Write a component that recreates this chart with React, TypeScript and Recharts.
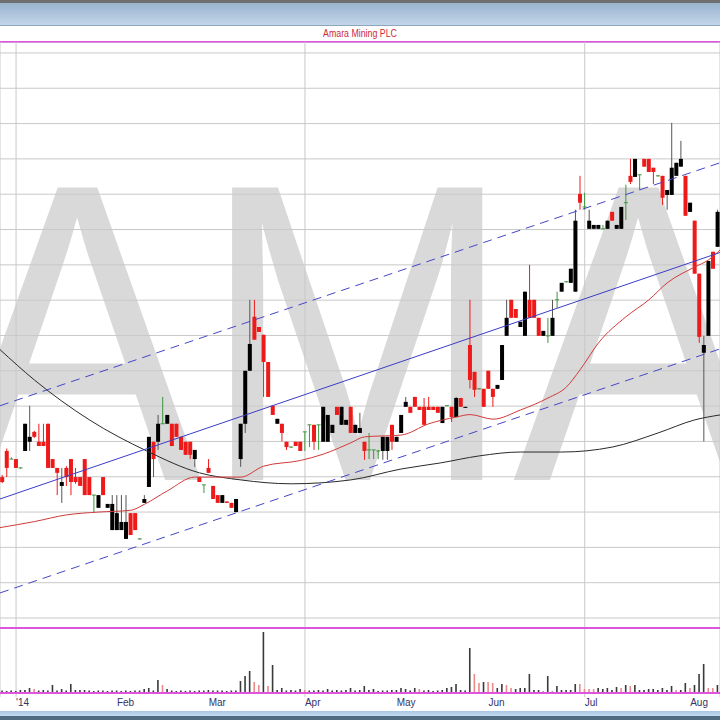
import React from 'react';
import { ComposedChart, Bar, Line, XAxis, YAxis, CartesianGrid, ReferenceLine } from 'recharts';

// trading day index: 0 = 2 Jan 2014, first candle is 27 Dec 2013
const firstDay = -3;

// [open, high, low, close] per trading day, pence
const ohlc: [number, number, number, number][] = [
  // Dec '13
  [8.99, 9.05, 8.82, 8.85], [9.73, 9.8, 8.99, 9.25], [9.5, 9.55, 9.5, 9.5],
  // Jan
  [9.5, 9.5, 9.25, 9.25], [9.25, 9.27, 9.23, 9.25], [9.73, 10.5, 9.73, 10.5], [9.99, 11.01, 9.73, 10.13],
  [10.27, 10.3, 10.1, 10.13], [9.99, 10.5, 9.87, 9.87], [9.99, 10.5, 9.87, 9.87], [10.5, 10.5, 9.25, 9.25],
  [9.5, 9.5, 9.25, 9.25], [9.25, 9.25, 8.48, 9.11], [8.74, 9.25, 8.26, 8.85], [9.25, 9.3, 8.74, 8.99],
  [9.5, 9.5, 8.48, 8.85], [8.99, 9.25, 8.8, 8.85], [8.99, 8.99, 8.74, 8.74], [9.5, 9.5, 8.48, 8.48],
  [8.99, 8.99, 8.48, 8.48], [8.48, 8.48, 8.0, 8.48], [8.12, 8.48, 8.12, 8.48], [8.99, 8.99, 8.48, 8.48],
  [8.12, 8.23, 8.12, 8.23], [7.49, 8.48, 7.49, 8.23],
  // Feb
  [7.49, 8.48, 7.49, 7.97], [7.49, 8.48, 7.49, 7.72], [7.24, 8.48, 7.24, 7.72], [7.97, 7.97, 7.35, 7.35],
  [7.97, 7.97, 7.49, 7.49], [7.24, 7.26, 7.22, 7.24], [8.26, 8.48, 8.26, 8.37], [8.71, 10.13, 8.71, 10.13],
  [9.99, 9.99, 8.99, 9.5], [9.99, 10.75, 9.76, 10.5], [10.5, 11.26, 10.5, 10.5], [10.5, 10.75, 10.5, 10.75],
  [10.5, 10.5, 9.87, 9.87], [10.5, 10.5, 10.13, 10.13], [10.13, 10.13, 9.76, 9.76], [9.99, 9.99, 9.62, 9.62],
  [9.99, 9.99, 9.5, 9.62], [9.5, 9.76, 9.28, 9.76], [8.99, 8.99, 8.85, 8.85], [8.77, 8.77, 8.54, 8.77],
  // Mar
  [9.25, 9.5, 9.11, 9.11], [8.74, 8.74, 8.37, 8.37], [8.48, 8.48, 8.26, 8.26], [8.26, 8.48, 8.26, 8.48],
  [8.3, 8.3, 8.26, 8.26], [8.26, 8.26, 8.12, 8.12], [8.0, 8.37, 8.0, 8.37], [9.5, 10.5, 9.28, 10.5],
  [10.5, 12.0, 10.24, 12.0], [12.0, 14.01, 12.0, 12.76], [13.53, 14.01, 12.88, 12.88], [13.24, 13.24, 13.1, 13.1],
  [13.02, 13.02, 11.26, 12.25], [12.25, 12.25, 11.26, 11.26], [11.01, 11.01, 10.75, 10.75], [10.5, 10.64, 10.5, 10.64],
  [10.5, 10.5, 10.0, 10.24], [9.99, 9.99, 9.76, 9.84], [9.84, 9.86, 9.82, 9.84], [9.99, 9.99, 9.87, 9.87],
  [9.99, 9.99, 9.73, 9.73],
  // Apr
  [10.27, 10.27, 9.73, 10.27], [10.47, 10.47, 9.84, 10.47], [10.47, 10.47, 9.76, 9.99], [10.47, 10.47, 9.76, 10.47],
  [9.99, 10.98, 9.99, 10.98], [9.99, 10.75, 9.99, 10.75], [10.24, 10.47, 10.24, 10.47], [10.98, 10.98, 10.75, 10.75],
  [10.47, 10.98, 10.47, 10.98], [10.47, 10.61, 10.47, 10.61], [10.98, 10.98, 10.24, 10.24], [10.24, 10.47, 10.24, 10.47],
  [10.24, 10.81, 10.24, 10.38], [9.99, 9.99, 9.48, 9.73], [9.76, 10.24, 9.5, 9.76], [9.76, 9.76, 9.5, 9.76],
  [9.73, 9.76, 9.5, 9.73], [9.73, 10.13, 9.48, 10.13], [9.73, 10.13, 9.48, 10.13], [10.47, 10.47, 9.76, 9.99],
  // May
  [9.99, 10.13, 9.99, 10.13], [10.24, 10.75, 10.24, 10.75], [10.98, 11.26, 10.98, 11.12], [10.98, 10.98, 10.81, 10.81],
  [11.26, 11.26, 10.98, 10.98], [10.98, 10.98, 10.89, 10.89], [10.98, 11.23, 10.47, 10.47], [10.98, 11.26, 10.89, 10.89],
  [10.98, 10.98, 10.89, 10.89], [10.98, 10.98, 10.81, 10.81], [10.52, 10.98, 10.52, 10.98], [11.01, 11.03, 10.99, 11.01],
  [10.98, 10.98, 10.55, 10.69], [10.69, 11.26, 10.69, 11.23], [11.23, 11.23, 10.98, 10.98], [10.95, 10.98, 10.95, 10.98],
  [12.73, 14.01, 11.5, 11.74], [11.97, 11.97, 11.26, 11.46], [11.49, 11.51, 11.47, 11.49], [11.49, 11.49, 10.98, 10.98],
  // Jun
  [12.0, 12.0, 11.49, 11.49], [11.49, 11.49, 10.98, 11.26], [11.49, 11.6, 11.49, 11.6], [11.74, 12.73, 11.74, 12.73],
  [12.99, 14.01, 12.99, 13.5], [14.01, 14.01, 13.5, 13.5], [13.75, 13.75, 13.5, 13.5], [13.24, 13.39, 13.24, 13.39],
  [12.99, 14.24, 12.99, 14.24], [14.01, 15.0, 13.5, 13.5], [14.01, 14.01, 13.5, 13.5], [13.5, 13.5, 12.99, 12.99],
  [12.99, 13.13, 12.99, 13.13], [12.99, 13.5, 12.79, 12.99], [12.99, 14.01, 12.99, 13.5], [14.01, 14.24, 13.78, 14.01],
  [14.24, 14.49, 14.24, 14.49], [14.52, 14.54, 14.5, 14.52], [14.49, 14.89, 14.49, 14.89], [14.24, 16.56, 14.24, 16.25],
  [17.01, 17.52, 16.56, 16.76],
  // Jul
  [16.64, 17.04, 16.56, 16.64], [16.02, 16.56, 16.02, 16.25], [16.02, 16.13, 16.02, 16.13], [16.02, 16.13, 16.02, 16.13],
  [16.02, 16.13, 16.02, 16.02], [16.02, 16.25, 16.02, 16.25], [16.5, 16.5, 16.25, 16.25], [16.02, 16.13, 16.02, 16.13],
  [16.02, 16.64, 16.02, 16.64], [16.76, 17.27, 16.27, 16.76], [17.52, 18.0, 17.29, 17.35], [17.49, 18.0, 17.49, 18.0],
  [17.55, 17.55, 17.12, 17.55], [18.0, 18.0, 17.78, 17.78], [18.0, 18.0, 17.63, 17.63], [17.75, 17.75, 17.29, 17.63],
  [17.52, 17.54, 17.5, 17.52], [17.52, 17.52, 16.7, 16.9], [16.98, 17.12, 16.56, 17.12], [16.98, 19.02, 16.98, 17.75],
  [17.52, 17.89, 17.52, 17.89], [17.78, 18.51, 17.78, 18.0], [17.52, 17.52, 16.39, 16.39],
  // Aug
  [16.5, 16.76, 16.5, 16.76], [16.25, 16.25, 14.75, 14.75], [14.75, 14.75, 12.79, 12.96], [12.51, 12.99, 10.0, 12.73],
  [12.99, 15.11, 12.99, 15.11], [15.37, 15.37, 14.89, 14.89], [15.51, 16.56, 15.51, 16.5],
];

// volume, millions of shares
const volumes = [
  0.25, 0.2, 0.25, 0.2, 0.3, 0.3, 0.5, 0.4, 0.25, 0.3,
  0.25, 0.8, 0.25, 0.4, 0.25, 0.9, 0.3, 0.3, 0.3, 0.25,
  0.2, 0.25, 0.25, 0.2, 0.25, 0.25, 0.2, 0.25, 0.2, 0.25,
  0.25, 0.4, 0.5, 0.25, 1.3, 0.8, 0.4, 0.25, 0.2, 0.25,
  0.2, 0.25, 0.2, 0.25, 0.25, 0.3, 0.25, 0.25, 0.25, 0.2,
  0.25, 0.25, 1.2, 1.7, 2.2, 1.1, 0.8, 6.1, 0.7, 2.8,
  0.3, 0.5, 0.25, 0.3, 0.25, 0.4, 0.3, 0.25, 0.25, 0.3,
  0.25, 0.4, 0.25, 0.3, 0.25, 0.3, 0.5, 0.25, 0.3, 0.7,
  0.3, 0.4, 0.2, 0.25, 0.25, 0.3, 0.3, 0.5, 0.4, 0.25,
  0.5, 0.4, 0.25, 0.3, 0.2, 0.25, 0.3, 0.5, 0.6, 0.9,
  0.3, 0.25, 4.5, 1.9, 1.0, 1.1, 1.1, 1.0, 0.5, 0.9,
  0.8, 0.5, 0.4, 0.5, 0.5, 1.9, 0.3, 0.3, 0.15, 1.7,
  0.15, 0.7, 0.3, 0.3, 0.3, 0.9, 0.9, 0.4, 0.4, 0.4,
  0.5, 0.4, 0.5, 0.3, 0.6, 0.5, 0.8, 0.7, 0.8, 0.3,
  0.3, 0.4, 0.4, 0.3, 0.5, 0.3, 0.7, 0.3, 0.3, 1.0,
  0.5, 0.8, 1.9, 2.9, 0.5, 0.5, 0.8,
];
// days whose volume bar is drawn pink (lower volume)
const pinkVolumeDays = [4, 32, 52, 53, 55, 63, 88, 100, 101, 103, 104, 107, 108, 123, 124, 125, 126, 132, 134, 144, 147, 151, 152];

const monthTicks = [0, 22, 42, 63, 83, 103, 124, 147];
const monthLabels = ["'14", 'Feb', 'Mar', 'Apr', 'May', 'Jun', 'Jul', 'Aug'];
const quarterTicks = [0, 63, 124];
const priceTicks = [5, 6, 7, 8, 9, 10, 11, 12, 13, 14, 15, 16, 17, 18, 19, 20, 21];

// moving averages
const redMaDays = [-3.5, 4, 11, 18, 25, 28, 33, 39, 49, 54, 62, 67, 73, 76, 84, 90, 96, 99, 104, 110, 116, 120, 123, 127, 133, 138, 142, 148, 151, 153.5];
const redMaValues = [7.56, 7.73, 7.92, 8.0, 8.05, 8.22, 8.6, 8.99, 8.99, 9.3, 9.46, 9.64, 9.96, 10.13, 10.18, 10.5, 10.69, 10.76, 10.63, 10.89, 11.23, 11.54, 12.03, 12.79, 13.53, 14.01, 14.49, 14.94, 15.14, 15.42];
const blackMaDays = [-3.5, 4, 16, 28.5, 40, 49, 60, 73, 84, 92.5, 101, 110, 119, 130, 140, 148, 153.5];
const blackMaValues = [12.6, 11.74, 10.61, 9.73, 9.11, 8.91, 8.8, 8.91, 9.22, 9.39, 9.59, 9.7, 9.7, 9.84, 10.24, 10.61, 10.75];

// trend channel (start / end of visible range)
const channelDays = [-3.5, 153.5];
const channelMid = [8.37, 15.35];
const channelUpper = [11.01, 17.89];
const channelLower = [5.71, 12.62];

const rows = ohlc.map((c, k) => {
  const day = firstDay + k;
  return {
    day,
    open: c[0],
    high: c[1],
    low: c[2],
    close: c[3],
    volume: volumes[k],
    pink: pinkVolumeDays.includes(day),
  };
});
const redMa = redMaDays.map((d, k) => ({ day: d, v: redMaValues[k] }));
const blackMa = blackMaDays.map((d, k) => ({ day: d, v: blackMaValues[k] }));

const font = 'Liberation Sans, Arial, sans-serif';
const xDomain: [number, number] = [channelDays[0], channelDays[1]];

const Candle = (props: any) => {
  const { x, y, width, height, payload } = props;
  if (payload == null || y == null) return null;
  const { open, high, low, close } = payload;
  const cx = x + width / 2;
  const span = high - low;
  const toY = (v: number) => (span > 0 ? y + (height * (high - v)) / span : y);
  const yo = toY(open);
  const yc = toY(close);
  if (open === close) {
    return (
      <g>
        <line x1={cx} x2={cx} y1={y} y2={y + height} stroke="#3c963c" />
        <line x1={cx - 2} x2={cx + 2} y1={yo} y2={yo} stroke="#3c963c" />
      </g>
    );
  }
  const up = close > open;
  const body = up ? '#000000' : '#ee1a1a';
  const wick = up ? '#555555' : '#ee1a1a';
  return (
    <g>
      <line x1={cx} x2={cx} y1={y} y2={y + height} stroke={wick} />
      <rect x={cx - 2} y={Math.min(yo, yc)} width={4} height={Math.max(1, Math.abs(yc - yo))} fill={body} />
    </g>
  );
};

const VolumeBar = (props: any) => {
  const { x, y, width, height, payload } = props;
  if (payload == null || y == null) return null;
  const cx = x + width / 2;
  return <rect x={cx - 0.8} y={y} width={1.6} height={Math.max(0, height)} fill={payload.pink ? '#e98a8a' : '#3a3a3a'} />;
};

const MonthTick = (props: any) => {
  const { x, payload } = props;
  const k = monthTicks.indexOf(payload.value);
  return (
    <text x={x} y={86} textAnchor="start" fontSize={10} fontFamily={font} fill="#343466">
      {monthLabels[k]}
    </text>
  );
};

const PriceChart = () => (
  <ComposedChart width={720} height={586} data={rows} margin={{ top: 0, right: 0, bottom: 0, left: 0 }}>
    <XAxis dataKey="day" type="number" domain={xDomain} allowDataOverflow ticks={quarterTicks} hide />
    <YAxis type="number" domain={[4.717, 21.31]} allowDataOverflow ticks={priceTicks} hide />
    <CartesianGrid stroke="#c9c9c9" />
    <Line data={blackMa} dataKey="v" type="monotone" stroke="#2a2a2a" strokeWidth={1} dot={false} isAnimationActive={false} />
    <Line data={redMa} dataKey="v" type="monotone" stroke="#d23a3a" strokeWidth={1} dot={false} isAnimationActive={false} />
    <Bar dataKey={(d: any) => [d.low, d.high]} barSize={4} shape={<Candle />} isAnimationActive={false} />
    <ReferenceLine segment={[{ x: channelDays[0], y: channelUpper[0] }, { x: channelDays[1], y: channelUpper[1] }]} stroke="#4646c8" strokeDasharray="9 6" />
    <ReferenceLine segment={[{ x: channelDays[0], y: channelMid[0] }, { x: channelDays[1], y: channelMid[1] }]} stroke="#3c3cc8" />
    <ReferenceLine segment={[{ x: channelDays[0], y: channelLower[0] }, { x: channelDays[1], y: channelLower[1] }]} stroke="#4646c8" strokeDasharray="9 6" />
  </ComposedChart>
);

const VolumeChart = () => (
  <ComposedChart width={720} height={100} data={rows} margin={{ top: 8, right: 0, bottom: 0, left: 0 }}>
    <XAxis xAxisId="grid" dataKey="day" type="number" domain={xDomain} allowDataOverflow ticks={quarterTicks} hide />
    <XAxis
      xAxisId="labels"
      dataKey="day"
      type="number"
      domain={xDomain}
      allowDataOverflow
      ticks={monthTicks}
      interval={0}
      height={23}
      axisLine={false}
      tickLine={false}
      tickSize={0}
      tickMargin={0}
      tick={<MonthTick />}
    />
    <YAxis type="number" domain={[-0.4, 6.5]} allowDataOverflow hide />
    <CartesianGrid xAxisId="grid" horizontal={false} stroke="#c9c9c9" />
    <Bar xAxisId="grid" dataKey="volume" barSize={2} shape={<VolumeBar />} isAnimationActive={false} />
    <ReferenceLine xAxisId="grid" y={0} stroke="#dd55dd" strokeWidth={2} />
    <ReferenceLine xAxisId="grid" y={6.5} stroke="#dd55dd" strokeWidth={2} />
  </ComposedChart>
);

export default function App() {
  return (
    <div style={{ position: 'absolute', left: 0, top: 0, width: 720, height: 720, background: '#ffffff', overflow: 'hidden', fontFamily: font }}>
      <div style={{ position: 'absolute', left: 0, top: 0, width: 720, height: 3, background: '#6e6e6e' }} />
      <div style={{ position: 'absolute', left: 0, top: 3, width: 720, height: 22, background: 'linear-gradient(#9ab4cf, #c2d6ea)' }} />
      <div style={{ position: 'absolute', left: 0, top: 25, width: 720, height: 1, background: '#8fa5bb' }} />
      <div style={{ position: 'absolute', left: 0, top: 27, width: 720, height: 14, lineHeight: '14px', textAlign: 'center', fontSize: 10, color: '#cc2a3a' }}>
        <span style={{ display: 'inline-block', transform: 'scaleX(0.88)' }}>Amara Mining PLC</span>
      </div>
      <div style={{ position: 'absolute', left: 0, top: 41, width: 720, height: 2, background: '#e055e0' }} />
      <svg width={720} height={720} style={{ position: 'absolute', left: 0, top: 0 }}>
        <text transform="translate(-48,480) scale(0.88,1)" fontSize={425} fontFamily={font} fill="#d9d9d9">
          AMA
        </text>
      </svg>
      <div style={{ position: 'absolute', left: 0, top: 42 }}>
        <PriceChart />
      </div>
      <div style={{ position: 'absolute', left: 0, top: 620 }}>
        <VolumeChart />
      </div>
      <div style={{ position: 'absolute', left: 0, top: 711, width: 720, height: 5, background: 'linear-gradient(#a9c6e0, #c4dbef)' }} />
      <div style={{ position: 'absolute', left: 0, top: 716, width: 720, height: 4, background: '#506a80' }} />
    </div>
  );
}
